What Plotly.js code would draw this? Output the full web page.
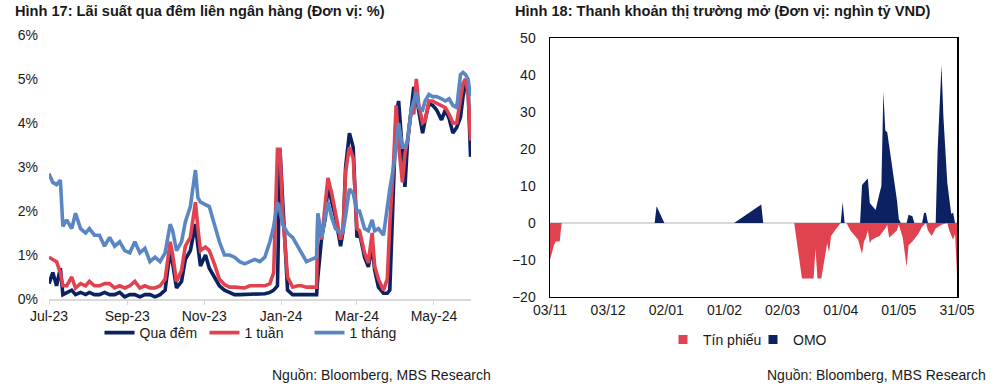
<!DOCTYPE html>
<html><head><meta charset="utf-8">
<script src="https://cdn.plot.ly/plotly-3.0.1.min.js"></script>
<style>html,body{margin:0;padding:0;background:#fff}#chart{width:1000px;height:388px}</style>
</head><body><div id="chart"></div>
<script>
// ---- Hình 17: interbank rates (%) ----
const rateDates = ["2023-07-01","2023-07-04","2023-07-07","2023-07-10","2023-07-12","2023-07-15","2023-07-19","2023-07-22","2023-07-26","2023-07-30",
"2023-08-02","2023-08-06","2023-08-10","2023-08-14","2023-08-18","2023-08-22","2023-08-26","2023-08-30","2023-09-03","2023-09-07",
"2023-09-11","2023-09-15","2023-09-19","2023-09-23","2023-09-27","2023-10-01","2023-10-05","2023-10-07","2023-10-10","2023-10-14",
"2023-10-17","2023-10-21","2023-10-25","2023-10-27","2023-10-29","2023-11-02","2023-11-05","2023-11-09","2023-11-13","2023-11-17",
"2023-11-21","2023-11-25","2023-11-29","2023-12-03","2023-12-07","2023-12-11","2023-12-15","2023-12-19","2023-12-23","2023-12-26",
"2023-12-29","2023-12-31","2024-01-02","2024-01-06","2024-01-10","2024-01-14","2024-01-17","2024-01-21","2024-01-25","2024-01-29",
"2024-01-30","2024-02-02","2024-02-05","2024-02-07","2024-02-10","2024-02-13","2024-02-17","2024-02-19","2024-02-21","2024-02-24",
"2024-02-27","2024-03-01","2024-03-03","2024-03-07","2024-03-10","2024-03-13","2024-03-15","2024-03-18","2024-03-22","2024-03-25",
"2024-03-27","2024-03-30","2024-04-01","2024-04-03","2024-04-06","2024-04-08","2024-04-10","2024-04-13","2024-04-15","2024-04-17",
"2024-04-19","2024-04-22","2024-04-24","2024-04-27","2024-04-30","2024-05-03","2024-05-07","2024-05-10","2024-05-13","2024-05-16",
"2024-05-19","2024-05-22","2024-05-24","2024-05-26","2024-05-28","2024-05-30"];
const overnight = [0.35,0.6,0.3,0.7,0.1,0.15,0.2,0.1,0.15,0.1,
0.15,0.1,0.1,0.15,0.1,0.1,0.15,0.05,0.1,0.1,
0.05,0.1,0.1,0.05,0.1,0.2,1.1,0.8,0.25,0.4,
0.9,1.1,1.7,1.2,0.75,1.0,0.7,0.5,0.3,0.2,
0.15,0.1,0.1,0.1,0.12,0.12,0.12,0.12,0.15,0.2,
0.3,3.4,2.3,0.2,0.1,0.1,0.1,0.1,0.1,0.1,
0.5,1.4,1.86,2.6,2.2,1.86,1.2,1.55,3.0,3.77,
3.45,1.4,1.5,0.95,0.73,1.2,0.66,0.27,0.13,0.13,
0.2,2.9,4.2,4.5,3.15,2.55,3.55,4.37,4.82,4.6,
4.3,3.77,4.07,4.45,4.4,4.3,4.07,4.3,4.1,3.77,
3.9,4.13,4.6,4.9,4.8,3.23];
const oneWeek = [0.95,0.9,0.85,0.6,0.3,0.3,0.5,0.25,0.35,0.3,
0.4,0.3,0.3,0.35,0.35,0.25,0.3,0.25,0.3,0.4,
0.25,0.3,0.25,0.25,0.3,0.45,1.3,1.0,0.4,0.65,
1.2,1.4,2.2,1.6,1.1,1.18,1.1,0.8,0.45,0.33,
0.27,0.27,0.25,0.25,0.3,0.3,0.28,0.3,0.35,0.6,
3.4,3.4,2.0,0.5,0.27,0.3,0.3,0.27,0.27,0.27,
1.9,1.35,2.2,2.75,2.4,1.9,1.35,1.55,2.9,3.45,
3.2,1.6,1.55,1.05,0.82,1.5,0.75,0.45,0.2,0.45,
1.7,3.1,4.4,3.5,2.65,3.3,3.6,4.3,4.2,5.0,
4.4,4.0,4.05,4.5,4.5,4.45,4.4,4.35,4.2,4.0,
4.0,4.55,4.9,5.0,4.7,3.6];
const oneMonth = [2.85,2.65,2.6,2.7,1.65,1.8,1.6,1.95,1.6,1.5,
1.6,1.45,1.45,1.2,1.4,1.2,1.3,1.1,1.05,1.3,
1.05,1.15,0.85,0.95,0.85,1.05,1.7,1.55,1.1,1.3,
1.75,2.1,2.93,2.3,2.2,2.15,2.1,1.7,1.3,1.0,
1.0,0.95,0.85,0.8,0.85,0.9,0.85,0.95,1.3,1.65,
2.2,2.0,1.7,1.5,1.4,1.2,1.05,0.85,0.9,0.95,
1.95,1.4,1.9,2.2,1.85,1.6,1.5,1.55,1.9,2.5,
2.4,2.0,2.0,1.6,1.55,1.8,1.55,1.6,1.45,2.1,
2.5,3.0,3.6,4.0,3.45,3.45,3.6,4.3,4.5,4.7,
4.35,4.3,4.5,4.65,4.6,4.6,4.55,4.5,4.55,4.4,
4.35,5.1,5.15,5.1,5.0,4.6];
const rateNames = ["Qua đêm","1 tuần","1 tháng"];
const rateTicks = [0,1,2,3,4,5,6];
const rateTickText = rateTicks.map(v => v + "%");

// ---- Hình 18: open market liquidity (nghìn tỷ VND) ----
const tpDates = ["2023-11-03","2023-11-05","2023-11-06","2023-11-08","2023-11-09","2024-03-08","2024-03-12","2024-03-17","2024-03-18","2024-03-19",
"2024-03-20","2024-03-22","2024-03-25","2024-03-26","2024-03-27","2024-03-29","2024-04-01","2024-04-04","2024-04-06","2024-04-10",
"2024-04-12","2024-04-13","2024-04-14","2024-04-15","2024-04-16","2024-04-17","2024-04-21","2024-04-24","2024-04-25","2024-04-26",
"2024-04-30","2024-05-01","2024-05-02","2024-05-03","2024-05-05","2024-05-06","2024-05-08","2024-05-11","2024-05-13","2024-05-15",
"2024-05-16","2024-05-18","2024-05-20","2024-05-23","2024-05-26","2024-05-27","2024-05-29","2024-05-30","2024-05-31"];
const tinPhieu = [-10,-6,-5,-5,0,0,-15,-15,-15,-7,
-15,-15,-5.5,-8,-3.5,-2,0,0,-2,-4.5,
-8.4,-5,-4,-2,-5.5,-4.5,-3.5,-1.5,-0.5,-4,
-2,-0.5,-2,-4,-11.8,-6,-5,-3,-1,0,
-2,-3.5,-1.5,-0.5,0,-2,-4.5,-3,-14];
const omoDates = ["2023-11-03","2023-12-27","2023-12-28","2024-01-01","2024-02-06","2024-02-20","2024-02-21","2024-04-01","2024-04-02","2024-04-03",
"2024-04-11","2024-04-12","2024-04-14","2024-04-15","2024-04-16","2024-04-19","2024-04-21","2024-04-22","2024-04-23","2024-04-24",
"2024-04-25","2024-04-28","2024-04-30","2024-05-01","2024-05-02","2024-05-05","2024-05-06","2024-05-08","2024-05-09","2024-05-13",
"2024-05-14","2024-05-15","2024-05-16","2024-05-20","2024-05-21","2024-05-23","2024-05-24","2024-05-26","2024-05-28","2024-05-29",
"2024-05-30","2024-05-31"];
const omo = [0,0,4.5,0,0,5,0,0,5.7,0,
0,10.3,11.5,12,5.4,3.5,8,10,35.5,25,
24.5,14.3,6.2,1,0,0,2.2,1.8,0,0,
2.8,2.7,0,0,19.7,42.7,28.6,10.8,2.5,2.8,
0,0];
const liqNames = ["Tín phiếu","OMO"];

const FONT = "Liberation Sans, Arial, sans-serif";
const navy = "#0b2161", red = "#e0434f", blue = "#5b86c4";

const traces = [
  {x: rateDates, y: overnight, name: rateNames[0], type: "scatter", mode: "lines", line: {color: navy, width: 3.6}, xaxis: "x", yaxis: "y", legend: "legend"},
  {x: rateDates, y: oneWeek, name: rateNames[1], type: "scatter", mode: "lines", line: {color: red, width: 3.6}, xaxis: "x", yaxis: "y", legend: "legend"},
  {x: rateDates, y: oneMonth, name: rateNames[2], type: "scatter", mode: "lines", line: {color: blue, width: 3.6}, xaxis: "x", yaxis: "y", legend: "legend"},
  {x: tpDates, y: tinPhieu, name: liqNames[0], type: "scatter", mode: "lines", fill: "tozeroy", fillcolor: red, line: {color: red, width: 0}, xaxis: "x2", yaxis: "y2", showlegend: false},
  {x: omoDates, y: omo, name: liqNames[1], type: "scatter", mode: "lines", fill: "tozeroy", fillcolor: navy, line: {color: navy, width: 0}, xaxis: "x2", yaxis: "y2", showlegend: false},
  {x: [null], y: [null], name: liqNames[0], type: "scatter", mode: "markers", marker: {symbol: "square", size: 9, color: red}, xaxis: "x2", yaxis: "y2", legend: "legend2"},
  {x: [null], y: [null], name: liqNames[1], type: "scatter", mode: "markers", marker: {symbol: "square", size: 9, color: navy}, xaxis: "x2", yaxis: "y2", legend: "legend2"}
];

const yDom2 = [0.0076, 0.9886];
const zeroPos = yDom2[0] + (0 - (-20)) / 70 * (yDom2[1] - yDom2[0]);

const layout = {
  width: 1000, height: 388,
  margin: {l: 0, r: 0, t: 35, b: 89},
  paper_bgcolor: "#fff", plot_bgcolor: "rgba(0,0,0,0)",
  font: {family: FONT, size: 14, color: "#1a1a1a"},
  xaxis: {domain: [0.049, 0.471], type: "date", range: ["2023-07-01", "2024-05-30 08:00"],
    tick0: "2023-07-01", dtick: "M2", tickformat: "%b-%y", showgrid: false, zeroline: false,
    showline: true, linecolor: "#d9d9d9", linewidth: 1.5, ticks: "outside", ticklen: 4, tickcolor: "#d9d9d9",
    tickfont: {size: 14, color: "#1a1a1a"}, anchor: "y"},
  yaxis: {domain: [0, 1], range: [0, 6], tickmode: "array", tickvals: rateTicks, ticktext: rateTickText, showgrid: false, zeroline: false,
    showline: false, ticks: "", ticklabelstandoff: 10, tickfont: {size: 14, color: "#1a1a1a"}, anchor: "x"},
  xaxis2: {domain: [0.550, 0.957], type: "date", range: ["2023-11-03", "2024-05-31"],
    tick0: "2023-11-03", dtick: 30 * 86400000, tickformat: "%d/%m", showgrid: false, zeroline: false,
    showline: true, mirror: true, linecolor: "#000", linewidth: 1.5, ticks: "",
    tickfont: {size: 14, color: "#1a1a1a"}, anchor: "y2"},
  xaxis3: {overlaying: "x2", anchor: "free", position: zeroPos, type: "date", range: ["2023-11-03", "2024-05-31"],
    tick0: "2023-11-03", dtick: 30 * 86400000, showticklabels: false, showgrid: false, zeroline: false,
    showline: false, ticks: "outside", ticklen: 4, tickcolor: "#d0d0d0", tickwidth: 1.5},
  yaxis2: {domain: yDom2, range: [-20, 50], dtick: 10, showgrid: false, zeroline: true, zerolinecolor: "#d9d9d9", zerolinewidth: 1.5,
    showline: true, mirror: true, linecolor: "#000", linewidth: 1.5, ticks: "", ticklabelstandoff: 10,
    tickfont: {size: 14, color: "#1a1a1a"}, anchor: "x2"},
  legend: {orientation: "h", x: 0.257, xanchor: "center", y: (299 - 333) / 264, yanchor: "middle",
    font: {size: 14, color: "#1a1a1a"}, entrywidth: 60, entrywidthmode: "pixels", tracegroupgap: 0, bgcolor: "rgba(0,0,0,0)"},
  legend2: {orientation: "h", x: 0.753, xanchor: "center", y: -0.155, yanchor: "middle",
    font: {size: 14, color: "#1a1a1a"}, entrywidth: 45, entrywidthmode: "pixels", bgcolor: "rgba(0,0,0,0)"},
  annotations: [
    {text: "<b>Hình 17: Lãi suất qua đêm liên ngân hàng (Đơn vị: %)</b>", xref: "paper", yref: "paper", x: 0.013, y: (299 - 11) / 264,
      xanchor: "left", yanchor: "middle", showarrow: false, font: {size: 14.6, color: "#1a1a1a"}},
    {text: "<b>Hình 18: Thanh khoản thị trường mở (Đơn vị: nghìn tỷ VND)</b>", xref: "paper", yref: "paper", x: 0.513, y: (299 - 11) / 264,
      xanchor: "left", yanchor: "middle", showarrow: false, font: {size: 14.6, color: "#1a1a1a"}},
    {text: "Nguồn: Bloomberg, MBS Research", xref: "paper", yref: "paper", x: 0.493, y: (299 - 375) / 264,
      xanchor: "right", yanchor: "middle", showarrow: false, font: {size: 14, color: "#1a1a1a"}},
    {text: "Nguồn: Bloomberg, MBS Research", xref: "paper", yref: "paper", x: 0.988, y: (299 - 375) / 264,
      xanchor: "right", yanchor: "middle", showarrow: false, font: {size: 14, color: "#1a1a1a"}}
  ],
  showlegend: true
};

Plotly.newPlot("chart", traces, layout, {displayModeBar: false, staticPlot: true});
</script>
</body></html>
